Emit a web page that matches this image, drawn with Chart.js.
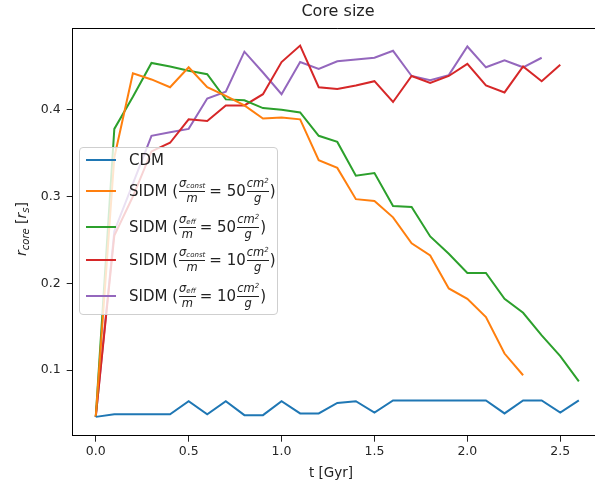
<!DOCTYPE html>
<html>
<head>
<meta charset="utf-8">
<script src="https://cdn.jsdelivr.net/npm/chart.js@4.4.1/dist/chart.umd.min.js"></script>
<style>
    html, body { margin: 0; padding: 0; background: #fff; }
    #wrap { position: relative; width: 595px; height: 493px; overflow: hidden; font-family: "DejaVu Sans", sans-serif; }
    #chart { position: absolute; left: 0; top: 0; }
    #ylabel { position: absolute; left: 22px; top: 229px; transform: translate(-50%, -50%) rotate(-90deg); white-space: nowrap; font-size: 14px; color: #222; }
    #ylabel i { font-style: italic; }
    #ylabel sub { font-size: 10px; font-style: italic; vertical-align: -3px; }
    #legend { position: absolute; left: 79px; top: 147px; width: 197px; height: 166px; border: 1px solid #cfcfcf; border-radius: 4px; background: rgba(255,255,255,0.8); }
    .row { position: absolute; left: 0; height: 30px; width: 197px; display: flex; align-items: center; font-size: 15px; color: #222; white-space: nowrap; }
    .row .h { position: absolute; left: 6px; top: 14px; width: 30px; height: 2px; }
    .row .t { margin-left: 49px; display: flex; align-items: center; }
    .eq { margin: 0 0 0 3px; }
    .frac { display: inline-flex; flex-direction: column; align-items: center; margin: 0 1px; font-style: italic; font-size: 11.5px; line-height: 1; }
    .frac .n { border-bottom: 1px solid #222; padding: 0 0 1px 0; }
    .frac .n sub { font-size: 7px; vertical-align: -1px; }
    .frac .n sup { font-size: 7px; vertical-align: 4px; }
    .frac .d { padding-top: 1px; }
</style>
</head>
<body>
<div id="wrap">
    <canvas id="chart" width="604" height="493"></canvas>
    <div id="ylabel"><i>r</i><sub>core</sub> [<i>r</i><sub>s</sub>]</div>
    <div id="legend"></div>
</div>
<script>
// snapshot times [Gyr]
const times = [0.0, 0.1, 0.2, 0.3, 0.4, 0.5, 0.6, 0.7, 0.8, 0.9, 1.0, 1.1, 1.2, 1.3, 1.4,
               1.5, 1.6, 1.7, 1.8, 1.9, 2.0, 2.1, 2.2, 2.3, 2.4, 2.5, 2.6];

// core radius in units of r_s
const cdm = [0.046, 0.049, 0.049, 0.049, 0.049, 0.064, 0.049, 0.064, 0.048, 0.048, 0.064, 0.050, 0.050, 0.062,
             0.064, 0.051, 0.065, 0.065, 0.065, 0.065, 0.065, 0.065, 0.050, 0.065, 0.065, 0.051, 0.065];
const sidmConst50 = [0.046, 0.345, 0.442, 0.435, 0.426, 0.449, 0.426, 0.416, 0.405, 0.390, 0.391, 0.389,
                     0.342, 0.333, 0.297, 0.295, 0.276, 0.246, 0.232, 0.194, 0.182, 0.161, 0.119, 0.094];
const sidmEff50 = [0.046, 0.378, 0.415, 0.454, 0.450, 0.445, 0.441, 0.412, 0.411, 0.402, 0.400, 0.397, 0.370, 0.363,
                   0.324, 0.327, 0.289, 0.288, 0.254, 0.234, 0.212, 0.212, 0.182, 0.166, 0.140, 0.116, 0.087];
const sidmConst10 = [0.046, 0.255, 0.300, 0.352, 0.362, 0.389, 0.387, 0.405, 0.405, 0.418, 0.455, 0.474, 0.426,
                     0.424, 0.428, 0.433, 0.409, 0.439, 0.431, 0.439, 0.453, 0.428, 0.420, 0.450, 0.433, 0.452];
const sidmEff10 = [0.046, 0.260, 0.315, 0.370, 0.374, 0.378, 0.413, 0.421, 0.467, 0.443, 0.418, 0.455, 0.447,
                   0.456, 0.458, 0.460, 0.468, 0.439, 0.434, 0.440, 0.473, 0.449, 0.457, 0.449, 0.460];

const xTicks = [0.0, 0.5, 1.0, 1.5, 2.0, 2.5];
const yTicks = [0.1, 0.2, 0.3, 0.4];

function sidmLabel(kind, value) {
    return 'SIDM (<span class="frac"><span class="n">σ<sub>' + kind + '</sub></span><span class="d">m</span></span>' +
        '<span class="eq">= ' + value + '</span><span class="frac"><span class="n">cm<sup>2</sup></span><span class="d">g</span></span>)';
}

const series = [
    { name: 'CDM', values: cdm, color: '#1f77b4', label: 'CDM' },
    { name: 'SIDM const 50', values: sidmConst50, color: '#ff7f0e', label: sidmLabel('const', 50) },
    { name: 'SIDM eff 50', values: sidmEff50, color: '#2ca02c', label: sidmLabel('eff', 50) },
    { name: 'SIDM const 10', values: sidmConst10, color: '#d62728', label: sidmLabel('const', 10) },
    { name: 'SIDM eff 10', values: sidmEff10, color: '#9467bd', label: sidmLabel('eff', 10) }
];

const FONT = '"DejaVu Sans", sans-serif';

// title, x label and top spine
const extras = {
    id: 'extras',
    afterDraw(chart) {
        const ctx = chart.ctx;
        const a = chart.chartArea;
        ctx.save();
        ctx.strokeStyle = '#000';
        ctx.lineWidth = 1;
        ctx.beginPath();
        ctx.moveTo(a.left, a.top + 0.5);
        ctx.lineTo(a.right, a.top + 0.5);
        ctx.stroke();
        ctx.fillStyle = '#222';
        ctx.textAlign = 'center';
        ctx.textBaseline = 'middle';
        ctx.font = '16px ' + FONT;
        ctx.fillText('Core size', 338, 12);
        ctx.font = '13.5px ' + FONT;
        ctx.fillText('t [Gyr]', 331, 473);
        ctx.restore();
    }
};

new Chart(document.getElementById('chart'), {
    type: 'line',
    data: {
        datasets: series.map(s => ({
            label: s.name,
            data: s.values.map((v, i) => ({ x: times[i], y: v })),
            borderColor: s.color,
            backgroundColor: s.color,
            borderWidth: 2,
            pointRadius: 0,
            tension: 0,
            fill: false
        }))
    },
    options: {
        responsive: false,
        animation: false,
        layout: { padding: { top: 28, left: 0, right: 1, bottom: 0 } },
        plugins: { legend: { display: false }, title: { display: false }, tooltip: { enabled: false } },
        scales: {
            x: {
                type: 'linear',
                min: -0.124,
                max: 2.73,
                afterBuildTicks: sc => { sc.ticks = xTicks.map(v => ({ value: v })); },
                afterFit: sc => { sc.height = 57.3; },
                grid: { drawOnChartArea: false, drawTicks: true, tickLength: 6, color: '#222' },
                border: { display: true, color: '#000', width: 1 },
                ticks: { padding: 3, color: '#262626', font: { family: FONT, size: 12.5 },
                         callback: v => v.toFixed(1) }
            },
            y: {
                type: 'linear',
                min: 0.0243,
                max: 0.4943,
                afterBuildTicks: sc => { sc.ticks = yTicks.map(v => ({ value: v })); },
                afterFit: sc => { sc.width = 72.7; },
                grid: { drawOnChartArea: false, drawTicks: true, tickLength: 6, color: '#222' },
                border: { display: true, color: '#000', width: 1 },
                ticks: { padding: 6, color: '#262626', font: { family: FONT, size: 12.5 },
                         callback: v => v.toFixed(1) }
            }
        }
    },
    plugins: [extras]
});

// legend with fraction labels
const rowCentres = [12, 43, 79, 112, 148];
const legend = document.getElementById('legend');
series.forEach((s, i) => {
    const row = document.createElement('div');
    row.className = 'row';
    row.style.top = (rowCentres[i] - 15) + 'px';
    row.innerHTML = '<span class="h" style="background:' + s.color + '"></span><span class="t">' + s.label + '</span>';
    legend.appendChild(row);
});
</script>
</body>
</html>
